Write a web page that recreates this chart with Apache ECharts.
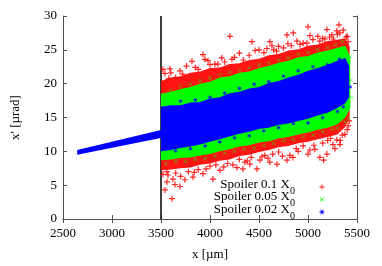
<!DOCTYPE html>
<html><head><meta charset="utf-8">
<script src="https://cdn.jsdelivr.net/npm/echarts@6/dist/echarts.min.js"></script>
<style>html,body{margin:0;padding:0;background:#fff}#c{width:382px;height:266px}</style>
</head><body><div id="c"></div>
<script>
// ---- data ----
const xTicks = [2500, 3000, 3500, 4000, 4500, 5000, 5500];
const yTicks = [0, 5, 10, 15, 20, 25, 30];
const cutX = 3500;

// narrow blue track before the cut (x, upper, lower)
const trackX = [2645, 3510];
const trackTop = [10.2, 13.2];
const trackBottom = [9.5, 12.0];

// dense bands after the cut
const bandX = [3500, 3600, 3700, 3800, 3900, 4000, 4100, 4200, 4300, 4400, 4500, 4600, 4700, 4800, 4900, 5000, 5100, 5200, 5300, 5380];
const redTop = [20.4, 20.9, 21.1, 21.6, 21.8, 22.3, 22.4, 22.9, 23.0, 23.5, 23.7, 24.2, 24.4, 24.9, 25.1, 25.6, 25.8, 26.3, 26.5, 26.7];
const redBottom = [7.2, 7.3, 7.5, 7.6, 8.0, 8.2, 8.6, 8.8, 9.3, 9.5, 9.9, 10.2, 10.6, 10.8, 11.2, 11.4, 11.8, 12.1, 12.5, 13.6];
const greenTop = [18.5, 18.8, 19.2, 19.5, 20.0, 20.3, 20.9, 21.1, 21.6, 21.8, 22.3, 22.6, 23.1, 23.4, 23.9, 24.1, 24.6, 24.9, 25.3, 25.6];
const greenBottom = [8.7, 8.8, 9.0, 9.1, 9.4, 9.6, 10.0, 10.3, 10.7, 10.9, 11.3, 11.5, 11.9, 12.1, 12.5, 12.8, 13.2, 13.5, 14.0, 15.0];
const blueTop = [16.6, 16.8, 16.8, 17.2, 17.3, 17.8, 18.0, 18.6, 18.8, 19.3, 19.5, 20.1, 20.4, 20.9, 21.3, 21.9, 22.3, 22.8, 23.4, 23.8];
const blueBottom = [10.0, 10.2, 10.5, 10.7, 11.0, 11.4, 11.8, 12.2, 12.6, 12.9, 13.3, 13.5, 13.9, 14.1, 14.5, 14.8, 15.3, 15.7, 16.4, 17.1];
// right-hand ends of the bands: [x, top, bottom]
const redEnd = [5425, 25.5, 15.0];
const greenEnd = [5432, 24.0, 16.4];
const blueEnd = [5420, 22.6, 18.0];

// scattered markers
const redPoints = [
  [3540,21.5],[3591,22.2],[3693,21.9],[3760,22.6],[3816,23.3],[3928,24.3],[3948,23.6],[4050,22.9],
  [4120,23.8],[4203,27.0],[4224,23.6],[4300,24.5],[4428,26.2],[4500,25.0],[4611,26.2],[4632,25.6],
  [4700,25.5],[4785,27.2],[4795,25.9],[4850,27.5],[4887,26.3],[4989,26.0],[5000,28.4],[5100,27.0],
  [5172,26.6],[5193,28.0],[5244,27.2],[5295,27.8],[5315,28.7],[5325,27.5],[5360,27.9],[5390,26.9],
  [3600,21.6],[3650,20.9],[3850,22.4],[4000,22.8],[4150,23.2],[4250,23.9],[4400,24.2],[4550,24.6],
  [4650,25.0],[4750,25.3],[4950,26.0],[5050,26.5],[5150,26.7],[5220,26.9],[5300,27.3],[5400,27.0],
  [3520,22.1],[3580,20.8],[3720,21.4],[3880,22.1],[3980,23.4],[4080,22.9],[4340,23.5],[4460,24.9],
  [4580,25.2],[4680,24.8],[4830,25.6],[4920,25.8],[5020,27.1],[5120,26.3],[5260,26.6],[5410,26.2],
  [3540,4.3],[3561,5.5],[3571,6.5],[3612,3.0],[3622,5.9],[3642,5.1],[3693,4.8],[3744,5.8],
  [3826,6.2],[3928,6.7],[4030,5.9],[4101,7.2],[4234,8.0],[4275,7.6],[4336,7.4],[4356,8.4],
  [4407,8.1],[4479,7.4],[4509,8.7],[4591,9.0],[4611,8.4],[4683,8.1],[4785,8.7],[4815,9.4],
  [4846,9.1],[5000,9.6],[5019,10.2],[5070,10.3],[5121,9.1],[5160,8.7],[5193,9.6],[5254,11.0],
  [5274,10.4],[5295,11.7],[5325,11.0],[5376,12.5],[5400,13.2],
  [3520,6.6],[3650,6.8],[3780,7.0],[3880,7.3],[4000,7.8],[4180,8.2],[4300,8.8],[4420,9.1],
  [4560,9.4],[4700,9.9],[4880,10.4],[4950,10.8],[5150,11.2],[5200,11.6],[5350,12.4],[5410,13.8],
  [3560,7.0],[3700,6.3],[3840,6.9],[3960,7.4],[4060,8.0],[4140,7.7],[4380,8.6],[4530,9.2],
  [4640,9.6],[4740,9.3],[4900,10.0],[5060,10.9],[5230,11.9],[5330,11.6],[5420,14.5]
];
const greenPoints = [
  [3600,19.0],[3800,19.9],[4000,20.8],[4200,21.7],[4400,22.3],[4600,23.0],[4800,23.8],[5000,24.6],
  [5200,25.3],[5350,26.2],[5430,24.0],[5440,20.5],[3700,19.6],[3900,20.4],[4100,21.3],[4300,22.0],
  [4500,22.8],[4700,23.5],[4900,24.3],[5100,25.0],[5280,25.7],
  [3550,8.2],[3750,8.5],[3950,8.9],[4150,9.7],[4350,10.3],[4550,10.9],[4750,11.6],[4950,12.2],
  [5150,12.9],[5300,13.5],[5420,15.0],[5445,18.0],[3650,8.5],[3850,8.8],[4050,9.3],[4250,10.0],
  [4450,10.5],[4650,11.2],[4850,11.8],[5050,12.4],[5250,13.3],[5380,14.3]
];
const bluePoints = [
  [3700,17.4],[4000,18.0],[4300,19.3],[4600,20.3],[4900,21.9],[5200,22.8],[3850,17.6],[4150,18.6],
  [4450,19.9],[4750,21.1],[5050,22.5],[5320,23.6],
  [3800,10.4],[4100,11.4],[4400,12.3],[4700,13.5],[5000,14.2],[5300,15.9],[5430,19.5],
  [3650,10.1],[3950,10.8],[4250,12.0],[4550,13.0],[4850,14.1],[5150,15.0],[5360,16.6]
];
const legendNames = ['Spoiler 0.1 X', 'Spoiler 0.05 X', 'Spoiler 0.02 X'];
const legendSub = '0';

// ---- chart ----
const FONT = '"Liberation Serif", "DejaVu Serif", serif';
const AX = '#505050';
const RED = '#ff0000', GREEN = '#00ff00', BLUE = '#0000ff';
const plusPath = 'path://M2,0h1v2h2v1h-2v2h-1v-2h-2v-1h2z';
const crossPath = 'path://M0.3,0L2.5,2.2L4.7,0L5,0.3L2.8,2.5L5,4.7L4.7,5L2.5,2.8L0.3,5L0,4.7L2.2,2.5L0,0.3z';
const starPath = 'path://M2.1,0h0.8v1.8l1.6,-0.9l0.4,0.7l-1.6,0.9l1.6,0.9l-0.4,0.7l-1.6,-0.9v1.8h-0.8v-1.8l-1.6,0.9l-0.4,-0.7l1.6,-0.9l-1.6,-0.9l0.4,-0.7l1.6,0.9z';

function band(xs, top, bottom, end, color, z, opacity) {
  const X = end ? xs.concat([end[0]]) : xs;
  const T = end ? top.concat([end[1]]) : top;
  const B = end ? bottom.concat([end[2]]) : bottom;
  return {
    type: 'custom', z: z, silent: true, clip: true,
    data: X.map((x, i) => [x, T[i], B[i]]),
    encode: { x: 0, y: [1, 2] },
    renderItem: function (params, api) {
      if (params.dataIndex !== 0) return;
      const pts = [];
      for (let i = 0; i < X.length; i++) pts.push(api.coord([X[i], T[i]]));
      for (let i = X.length - 1; i >= 0; i--) pts.push(api.coord([X[i], B[i]]));
      return { type: 'polygon', shape: { points: pts }, style: { fill: color, opacity: opacity } };
    }
  };
}

const axisCommon = {
  type: 'value', min: xTicks[0], max: xTicks[xTicks.length - 1], interval: 500,
  axisLine: { lineStyle: { color: AX, width: 1 } },
  axisTick: { inside: true, length: 4, lineStyle: { color: AX } },
  splitLine: { show: false }
};
const yCommon = Object.assign({}, axisCommon, { min: yTicks[0], max: yTicks[yTicks.length - 1], interval: 5 });

function legendIcon(i, cx, cy) {
  const st = { stroke: [RED, GREEN, BLUE][i], lineWidth: 1, opacity: i === 0 ? 0.85 : 1 };
  let segs;
  if (i === 0) segs = [[-2.5, 0, 2.5, 0], [0, -2.5, 0, 2.5]];
  else if (i === 1) segs = [[-2, -2, 2, 2], [-2, 2, 2, -2]];
  else segs = [[-2.5, 0, 2.5, 0], [-1.3, -2.2, 1.3, 2.2], [-1.3, 2.2, 1.3, -2.2]];
  return segs.map(s => ({ type: 'line', shape: { x1: cx + s[0], y1: cy + s[1], x2: cx + s[2], y2: cy + s[3] }, style: st }));
}

const chart = echarts.init(document.getElementById('c'), null, { renderer: 'canvas' });
chart.setOption({
  animation: false,
  backgroundColor: '#fff',
  grid: { left: 63, right: 25, top: 16, bottom: 43 },
  xAxis: [
    Object.assign({}, axisCommon, {
      position: 'bottom',
      axisLabel: { color: '#000', fontFamily: FONT, fontSize: 13, margin: 8, formatter: v => String(v) },
      name: 'x [µm]', nameLocation: 'middle', nameGap: 29,
      nameTextStyle: { color: '#000', fontFamily: FONT, fontSize: 13 }
    }),
    Object.assign({}, axisCommon, { position: 'top', axisLabel: { show: false } })
  ],
  yAxis: [
    Object.assign({}, yCommon, {
      position: 'left',
      axisLabel: { color: '#000', fontFamily: FONT, fontSize: 13, margin: 6, formatter: v => String(v) },
      name: "x' [µrad]", nameLocation: 'middle', nameGap: 41, nameRotate: 90,
      nameTextStyle: { color: '#000', fontFamily: FONT, fontSize: 13 }
    }),
    Object.assign({}, yCommon, { position: 'right', axisLabel: { show: false } })
  ],
  series: [
    { type: 'line', z: 1, silent: true, symbol: 'none', data: [[cutX, yTicks[0]], [cutX, yTicks[yTicks.length - 1]]],
      lineStyle: { color: '#000', width: 1.5 } },
    band(bandX, redTop, redBottom, redEnd, RED, 2, 0.92),
    { type: 'scatter', z: 3, silent: true, symbol: plusPath, symbolSize: 6, data: redPoints,
      itemStyle: { color: RED, opacity: 0.85 } },
    band(bandX, greenTop, greenBottom, greenEnd, GREEN, 4, 1),
    { type: 'scatter', z: 5, silent: true, symbol: crossPath, symbolSize: 4, data: greenPoints,
      itemStyle: { color: GREEN, opacity: 1 } },
    band(trackX, trackTop, trackBottom, null, BLUE, 6, 1),
    band(bandX, blueTop, blueBottom, blueEnd, BLUE, 6, 1),
    { type: 'scatter', z: 7, silent: true, symbol: starPath, symbolSize: 4, data: bluePoints,
      itemStyle: { color: BLUE, opacity: 1 } }
  ],
  graphic: [0, 1, 2].map(i => ({
    type: 'group', z: 100,
    children: [
      { type: 'text', x: 295, y: 187 + i * 12.5,
        style: { text: '{a|' + legendNames[i] + '}{b|' + legendSub + '}', align: 'right', verticalAlign: 'middle',
          rich: { a: { fontFamily: FONT, fontSize: 13, fill: '#000', lineHeight: 14, verticalAlign: 'top' },
                  b: { fontFamily: FONT, fontSize: 10, fill: '#000', lineHeight: 18, verticalAlign: 'bottom' } },
          fill: '#000' } }
    ].concat(legendIcon(i, 322, 187 + i * 12.5))
  }))
});
</script></body></html>
